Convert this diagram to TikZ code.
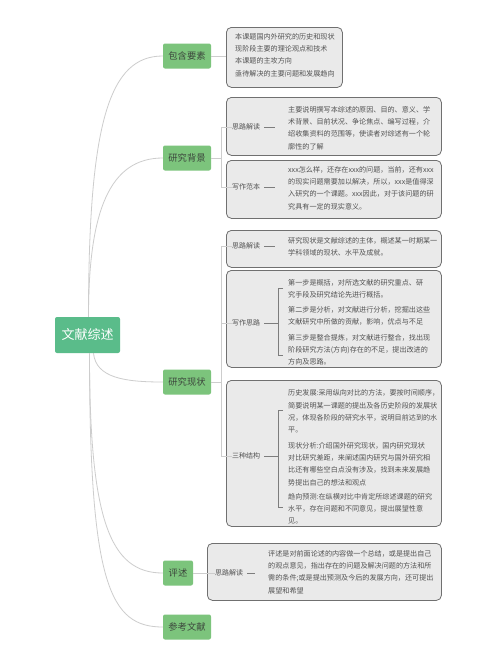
\documentclass[tikz,border=0pt]{standalone}
\usepackage{fontspec}
\setmainfont{Noto Sans CJK SC}
\usepackage{xcolor}
\usetikzlibrary{positioning}
\definecolor{rootgreen}{RGB}{90,188,138}
\definecolor{leafgreen}{RGB}{124,196,124}
\definecolor{leaftext}{RGB}{60,70,60}
\definecolor{bodytext}{RGB}{82,82,82}
\definecolor{boxfill}{RGB}{234,234,234}
\definecolor{boxline}{RGB}{112,112,112}
\definecolor{curvegray}{RGB}{205,205,205}
\definecolor{stemgray}{RGB}{125,125,125}

\begin{document}
\begin{tikzpicture}[x=1pt, y=-1pt,
    root/.style={fill=rootgreen, rounded corners=2pt, minimum width=65pt,
                 minimum height=36pt, text=white, font=\fontsize{13}{15}\selectfont},
    topic/.style={fill=leafgreen, rounded corners=2pt, minimum width=48pt,
                  minimum height=25pt, inner sep=0pt, text=leaftext,
                  font=\fontsize{9.3}{11}\selectfont},
    detail/.style={draw=boxline, fill=boxfill, rounded corners=5pt,
                   line width=0.8pt, anchor=north west, inner sep=0pt},
    tag/.style={text=bodytext, font=\fontsize{7}{12}\selectfont, inner sep=0pt, anchor=west},
    txt/.style={text=bodytext, font=\fontsize{7.1}{12.2}\selectfont, inner sep=0pt,
                anchor=west, align=left},
    curve/.style={draw=curvegray, line width=0.8pt},
    stem/.style={draw=stemgray, line width=0.5pt}
]
    \fill[white] (0,0) rectangle (500,659);
    \useasboundingbox (0,0) rectangle (500,659);

    % Root and main topics
    \node[root] (review) at (87.5,335) {文献综述};
    \node[topic] (elements) at (187,56) {包含要素};
    \node[topic] (background) at (187,158) {研究背景};
    \node[topic] (status) at (187,382) {研究现状};
    \node[topic, minimum width=30pt] (comment) at (178,573) {评述};
    \node[topic] (refs) at (187,627) {参考文献};

    \draw[curve] ([xshift=1pt]review.north) .. controls (88.5,120) and (110,56) .. (elements.west);
    \draw[curve] ([xshift=1pt]review.north) .. controls (88.5,210) and (110,158) .. (background.west);
    \draw[curve] ([xshift=6pt]review.south) .. controls (96,378) and (125,382) .. (status.west);
    \draw[curve] ([xshift=2pt]review.south) .. controls (89.5,520) and (110,573) .. (comment.west);
    \draw[curve] ([xshift=2pt]review.south) .. controls (89.5,585) and (110,627) .. (refs.west);

    % 包含要素
    \node[detail, minimum width=116pt, minimum height=60pt] (elbox) at (226,27) {};
    \node[txt] (eltext) at (235,55) {本课题国内外研究的历史和现状\\
        现阶段主要的理论观点和技术\\
        本课题的主攻方向\\
        亟待解决的主要问题和发展趋向};
    \draw[curve] (elements.east) -- (elements.east -| elbox.west);

    % 研究背景
    \node[detail, minimum width=215pt, minimum height=58pt] (bgbox1) at (226,97) {};
    \node[detail, minimum width=215pt, minimum height=58pt] (bgbox2) at (226,160) {};
    \node[tag] (bgtag1) at (232,127) {思路解读};
    \node[tag] (bgtag2) at (232,187) {写作范本};
    \node[txt] (bgtext1) at (288,128) {主要说明撰写本综述的原因、目的、意义、学\\
        术背景、目前状况、争论焦点、编写过程，介\\
        绍收集资料的范围等，使读者对综述有一个轮\\
        廓性的了解};
    \node[txt] (bgtext2) at (288,188) {xxx怎么样，还存在xxx的问题，当前，还有xxx\\
        的现实问题需要加以解决，所以，xxx是值得深\\
        入研究的一个课题。xxx因此，对于该问题的研\\
        究具有一定的现实意义。};
    \draw[curve] (background.east) -- ++(10,0) |- (bgtag1.west);
    \draw[curve] (background.east) -- ++(10,0) |- (bgtag2.west);
    \draw[stem, shorten <=4pt, shorten >=13pt] (bgtag1.east) -- (bgtag1.east -| bgtext1.west);
    \draw[stem, shorten <=4pt, shorten >=13pt] (bgtag2.east) -- (bgtag2.east -| bgtext2.west);

    % 研究现状
    \node[detail, minimum width=215pt, minimum height=37pt] (xzbox1) at (226,230) {};
    \node[detail, minimum width=215pt, minimum height=97pt] (xzbox2) at (226,270) {};
    \node[detail, minimum width=215pt, minimum height=146pt] (xzbox3) at (226,380) {};
    \node[tag] (xztag1) at (232,246) {思路解读};
    \node[tag] (xztag2) at (232,323) {写作思路};
    \node[tag] (xztag3) at (232,456) {三种结构};
    \node[txt] (xztext1) at (288,247) {研究现状是文献综述的主体，概述某一时期某一\\
        学科领域的现状、水平及成就。};
    \node[txt] (xzstep1) at (288,289) {第一步是概括，对所选文献的研究重点、研\\
        究手段及研究结论先进行概括。};
    \node[txt] (xzstep2) at (288,316) {第二步是分析，对文献进行分析，挖掘出这些\\
        文献研究中所做的贡献，影响，优点与不足};
    \node[txt] (xzstep3) at (288,350) {第三步是整合提炼，对文献进行整合，找出现\\
        阶段研究方法(方向)存在的不足，提出改进的\\
        方向及思路。};
    \node[txt] (xzform1) at (288,411.5) {历史发展:采用纵向对比的方法，要按时间顺序，\\
        简要说明某一课题的提出及各历史阶段的发展状\\
        况，体现各阶段的研究水平，说明目前达到的水\\
        平。};
    \node[txt] (xzform2) at (288,464) {现状分析:介绍国外研究现状，国内研究现状\\
        对比研究差距，来阐述国内研究与国外研究相\\
        比还有哪些空白点没有涉及，找到未来发展趋\\
        势提出自己的想法和观点};
    \node[txt] (xzform3) at (288,509) {趋向预测:在纵横对比中肯定所综述课题的研究\\
        水平，存在问题和不同意见，提出展望性意\\
        见。};
    \draw[curve] (status.east) -- ++(10,0) |- (xztag1.west);
    \draw[curve] (status.east) -- ++(10,0) |- (xztag2.west);
    \draw[curve] (status.east) -- ++(10,0) |- (xztag3.west);
    \draw[stem, shorten <=4pt, shorten >=13pt] (xztag1.east) -- (xztag1.east -| xztext1.west);

    \coordinate (stepup) at (278,288);
    \coordinate (stepdown) at (278,355);
    \draw[stem] ([xshift=5pt]stepup) -- (stepup) -- (stepdown) -- ([xshift=5pt]stepdown);
    \draw[stem, shorten <=4pt] (xztag2.east) -- (xztag2.east -| stepup);

    \coordinate (formup) at (278,410);
    \coordinate (formdown) at (278,507);
    \draw[stem] ([xshift=5pt]formup) -- (formup) -- (formdown) -- ([xshift=5pt]formdown);
    \draw[stem, shorten <=4pt] (xztag3.east) -- (xztag3.east -| formup);

    % 评述
    \node[detail, minimum width=234pt, minimum height=57pt] (psbox) at (207,543) {};
    \node[tag] (pstag) at (215,573) {思路解读};
    \node[txt] (pstext) at (268,572) {评述是对前面论述的内容做一个总结，或是提出自己\\
        的观点意见，指出存在的问题及解决问题的方法和所\\
        需的条件;或是提出预测及今后的发展方向，还可提出\\
        展望和希望};
    \draw[curve] (comment.east) -- (pstag.west);
    \draw[stem, shorten <=4pt, shorten >=13pt] (pstag.east) -- (pstag.east -| pstext.west);
\end{tikzpicture}
\end{document}
